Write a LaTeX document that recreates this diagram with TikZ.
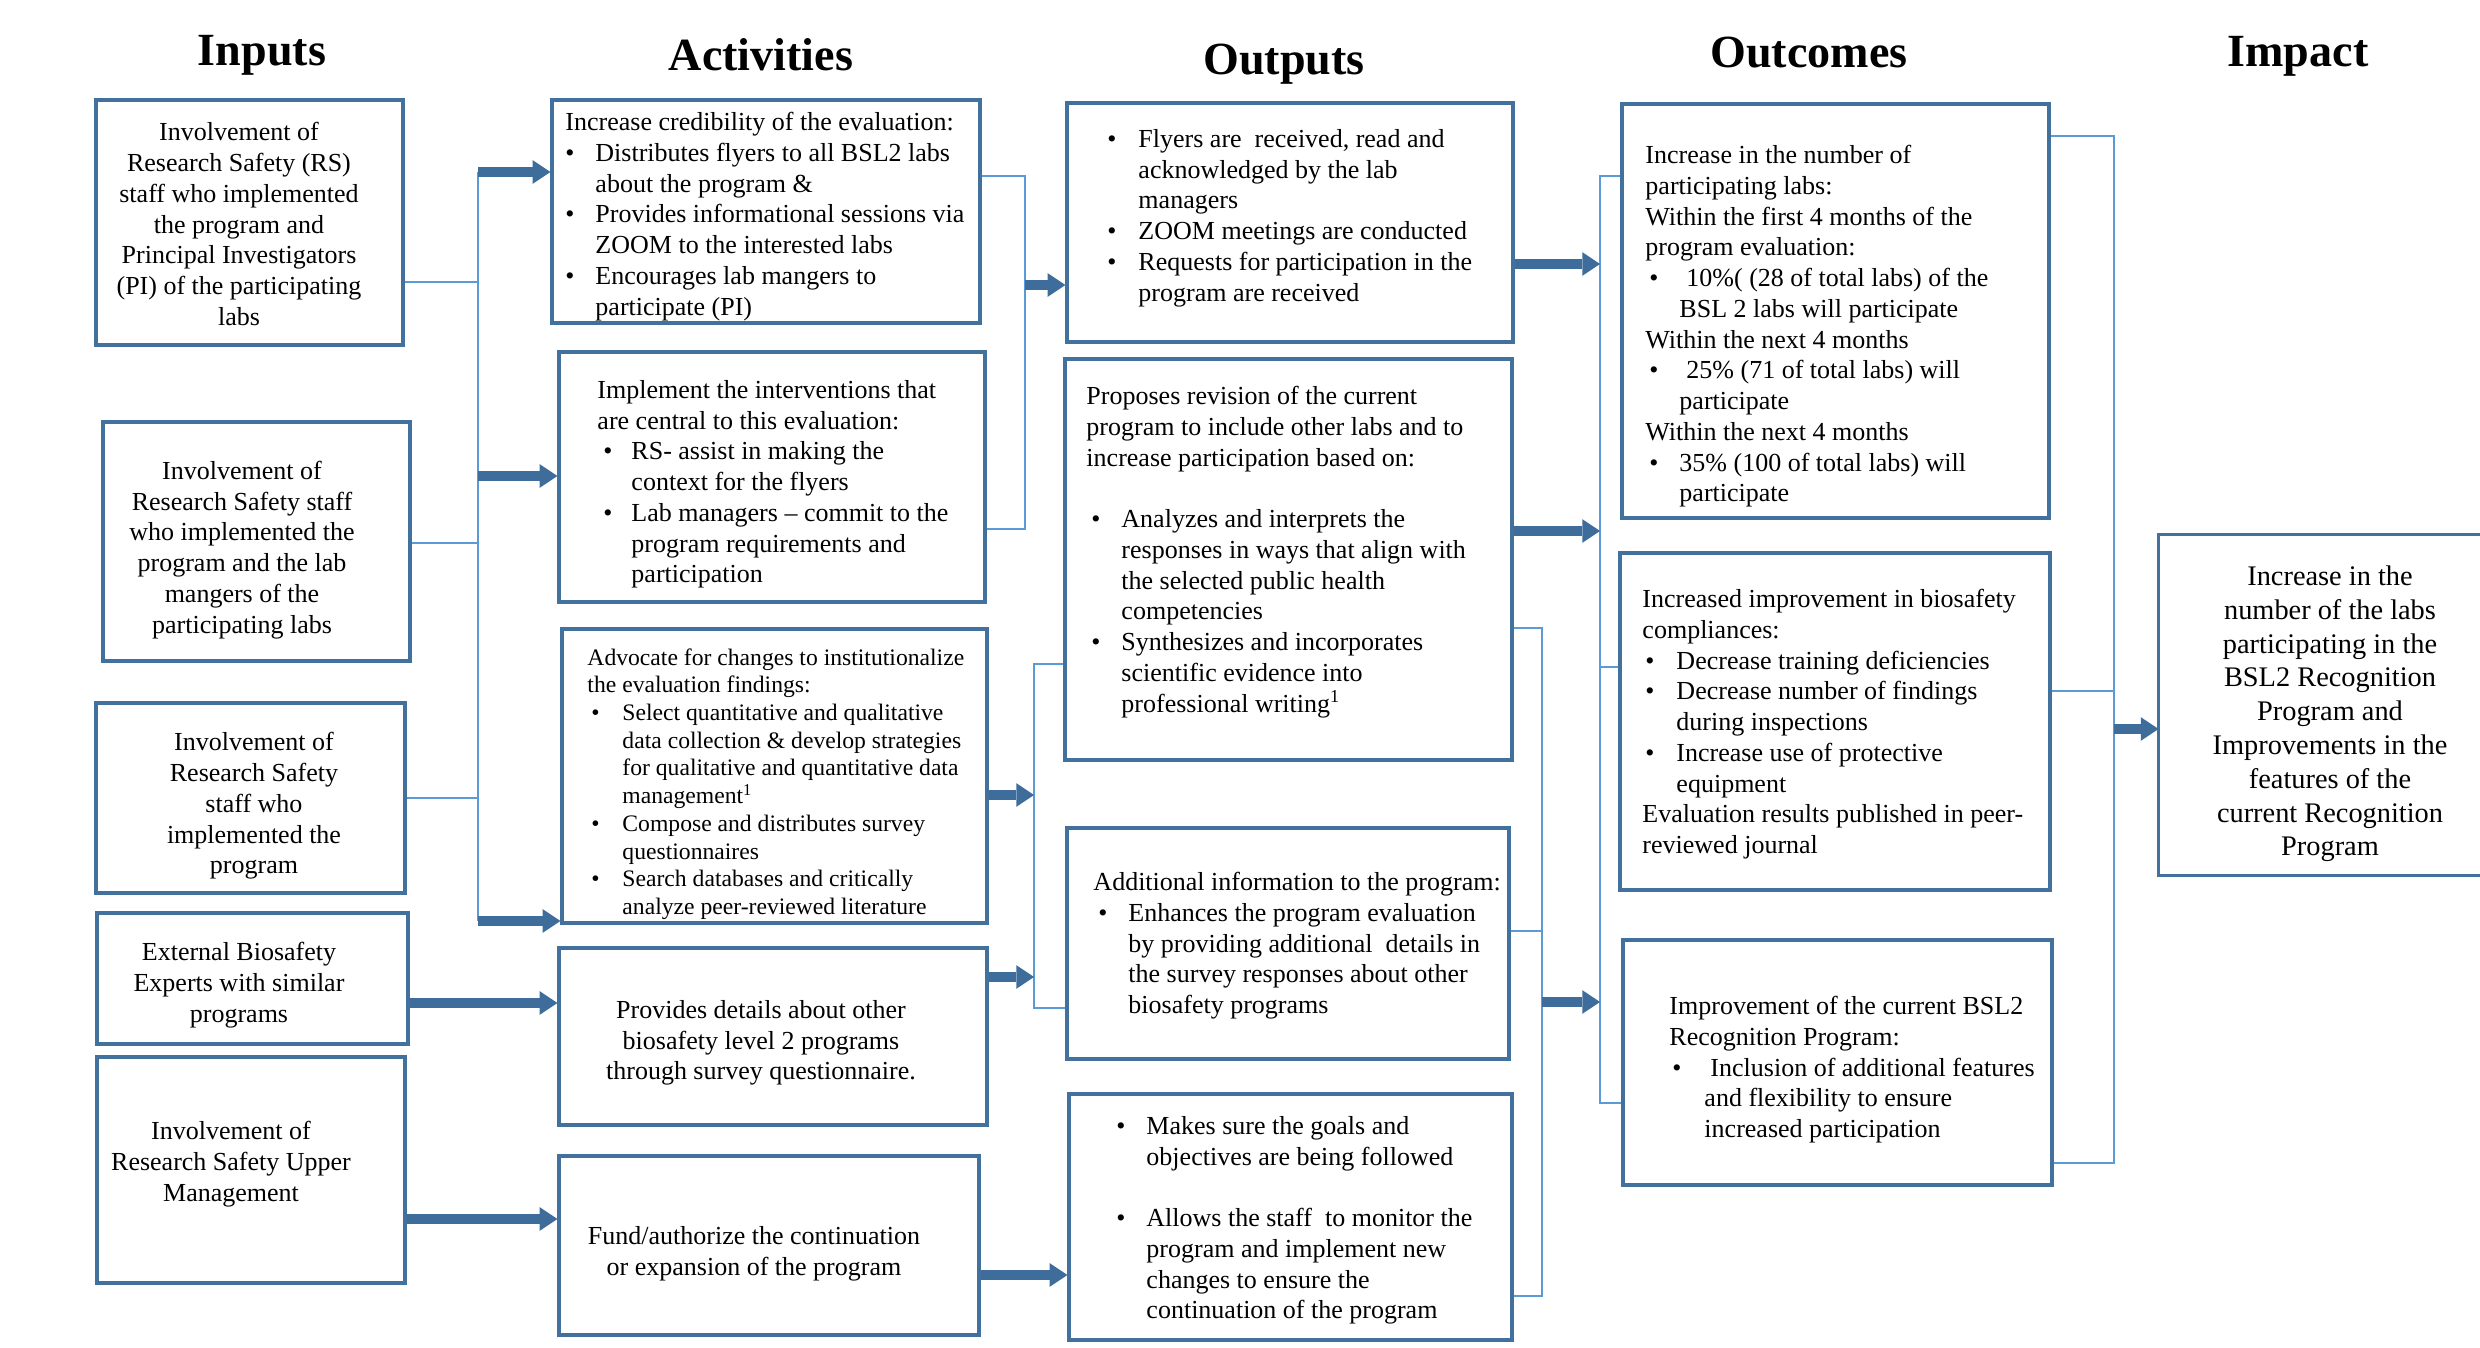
\documentclass[tikz,border=0pt]{standalone}
\usepackage{fontspec}
\setmainfont{Liberation Serif}
\usetikzlibrary{arrows.meta,fit}
\newdimen\pxu \pxu=0.42308pt
\newcommand\bu[1]{\makebox[#1\pxu][l]{\textbullet}}
\newcommand\ind[1]{\hspace*{#1\pxu}}
\definecolor{boxc}{HTML}{41719C}
\definecolor{linec}{HTML}{5B9BD5}
\definecolor{arrc}{HTML}{3E6D9C}
\tikzset{
  box/.style={draw=boxc, line width=1.3pt, inner sep=0pt},
  txt/.style={inner sep=0pt, align=left, anchor=north west, font=\fontsize{11}{13}\selectfont},
  stxt/.style={inner sep=0pt, align=left, anchor=north west, font=\fontsize{10}{11.72}\selectfont},
  ctxt/.style={inner sep=0pt, align=center, font=\fontsize{11}{13}\selectfont},
  itxt/.style={inner sep=0pt, align=center, font=\fontsize{12}{14.3}\selectfont},
  head/.style={anchor=base, inner sep=0pt, font=\fontsize{19.5}{23}\selectfont\bfseries},
  conn/.style={draw=linec, line width=1.05pt},
  bigarrow/.style={draw=arrc, line width=4.2pt, -{Triangle[width=10pt,length=7.5pt,line width=0pt]}}
}
\begin{document}
\begin{tikzpicture}[x=0.42308pt,y=-0.42308pt]
\fill[white] (0,0) rectangle (2480,1348);
\useasboundingbox (0,0) rectangle (2480,1348);

% headings
\node[head] (hin)  at (262,66)  {Inputs};
\node[head] (hact) at (761,71)  {Activities};
\node[head] (hout) at (1284,75) {Outputs};
\node[head] (hoc)  at (1809,68) {Outcomes};
\node[head] (himp) at (2298,67) {Impact};

% input boxes
\node[box, fit={(96,100) (403,345)}] (i1) {};
\node[box, fit={(103,422) (410,661)}] (i2) {};
\node[box, fit={(96,703) (405,893)}] (i3) {};
\node[box, fit={(97,913) (408,1044)}] (i4) {};
\node[box, fit={(97,1057) (405,1283)}] (i5) {};
\node[ctxt] (i1t) at (239,224) {Involvement of\\Research Safety (RS)\\staff who implemented\\the program and\\Principal Investigators\\(PI) of the participating\\labs};
\node[ctxt] (i2t) at (242,550) {Involvement of\\Research Safety staff\\who implemented the\\program and the lab\\mangers of the\\participating labs};
\node[ctxt] (i3t) at (254,806) {Involvement of\\Research Safety\\staff who\\implemented the\\program};
\node[ctxt] (i4t) at (239,985) {External Biosafety\\Experts with similar\\programs};
\node[ctxt] (i5t) at (231,1164) {Involvement of\\Research Safety Upper\\Management};

% activity boxes
\node[box, fit={(552,100) (980,323)}] (a1) {};
\node[box, fit={(559,352) (985,602)}] (a2) {};
\node[box, fit={(562,629) (987,923)}] (a3) {};
\node[box, fit={(559,948) (987,1125)}] (a4) {};
\node[box, fit={(559,1156) (979,1335)}] (a5) {};
\node[txt] (a1t) at (565,112) {Increase credibility of the evaluation:\\
\bu{30}Distributes flyers to all BSL2 labs\\
\ind{30}about the program \&\\
\bu{30}Provides informational sessions via\\
\ind{30}ZOOM to the interested labs\\
\bu{30}Encourages lab mangers to\\
\ind{30}participate (PI)};
\node[txt] (a2t) at (597,380) {Implement the interventions that\\
are central to this evaluation:\\
\ind{6}\bu{28}RS- assist in making the\\
\ind{34}context for the flyers\\
\ind{6}\bu{28}Lab managers -- commit to the\\
\ind{34}program requirements and\\
\ind{34}participation};
\node[stxt] (a3t) at (587,648) {Advocate for changes to institutionalize\\
the evaluation findings:\\
\ind{4}\bu{31}Select quantitative and qualitative\\
\ind{35}data collection \& develop strategies\\
\ind{35}for qualitative and quantitative data\\
\ind{35}management\textsuperscript{1}\\
\ind{4}\bu{31}Compose and distributes survey\\
\ind{35}questionnaires\\
\ind{4}\bu{31}Search databases and critically\\
\ind{35}analyze peer-reviewed literature};
\node[ctxt] (a4t) at (761,1043) {Provides details about other\\biosafety level 2 programs\\through survey questionnaire.};
\node[ctxt] (a5t) at (754,1254) {Fund/authorize the continuation\\or expansion of the program};

% output boxes
\node[box, fit={(1067,103) (1513,342)}] (o1) {};
\node[box, fit={(1065,359) (1512,760)}] (o2) {};
\node[box, fit={(1067,828) (1509,1059)}] (o3) {};
\node[box, fit={(1069,1094) (1512,1340)}] (o4) {};
\node[txt] (o1t) at (1107,129) {\bu{31}Flyers are \ received, read and\\
\ind{31}acknowledged by the lab\\
\ind{31}managers\\
\bu{31}ZOOM meetings are conducted\\
\bu{31}Requests for participation in the\\
\ind{31}program are received};
\node[txt] (o2t) at (1086,386) {Proposes revision of the current\\
program to include other labs and to\\
increase participation based on:\\[13pt]
\ind{5}\bu{30}Analyzes and interprets the\\
\ind{35}responses in ways that align with\\
\ind{35}the selected public health\\
\ind{35}competencies\\
\ind{5}\bu{30}Synthesizes and incorporates\\
\ind{35}scientific evidence into\\
\ind{35}professional writing\textsuperscript{1}};
\node[txt] (o3t) at (1093,872) {Additional information to the program:\\
\ind{5}\bu{30}Enhances the program evaluation\\
\ind{35}by providing additional \ details in\\
\ind{35}the survey responses about other\\
\ind{35}biosafety programs};
\node[txt] (o4t) at (1116,1116) {\bu{30}Makes sure the goals and\\
\ind{30}objectives are being followed\\[13pt]
\bu{30}Allows the staff \ to monitor the\\
\ind{30}program and implement new\\
\ind{30}changes to ensure the\\
\ind{30}continuation of the program};

% outcome boxes
\node[box, fit={(1622,104) (2049,518)}] (c1) {};
\node[box, fit={(1620,553) (2050,890)}] (c2) {};
\node[box, fit={(1623,940) (2052,1185)}] (c3) {};
\node[txt] (c1t) at (1645,145) {Increase in the number of\\
participating labs:\\
Within the first 4 months of the\\
program evaluation:\\
\ind{4}\bu{37}10\%( (28 of total labs) of the\\
\ind{34}BSL 2 labs will participate\\
Within the next 4 months\\
\ind{4}\bu{37}25\% (71 of total labs) will\\
\ind{34}participate\\
Within the next 4 months\\
\ind{4}\bu{30}35\% (100 of total labs) will\\
\ind{34}participate};
\node[txt] (c2t) at (1642,589) {Increased improvement in biosafety\\
compliances:\\
\ind{3}\bu{31}Decrease training deficiencies\\
\ind{3}\bu{31}Decrease number of findings\\
\ind{34}during inspections\\
\ind{3}\bu{31}Increase use of protective\\
\ind{34}equipment\\
Evaluation results published in peer-\\
reviewed journal};
\node[txt] (c3t) at (1669,996) {Improvement of the current BSL2\\
Recognition Program:\\
\ind{3}\bu{38}Inclusion of additional features\\
\ind{35}and flexibility to ensure\\
\ind{35}increased participation};

% impact box (right side runs off the page)
\node[inner sep=0pt, fit={(2159,535) (2482,875)}] (m1) {};
\draw[boxc, line width=1.3pt] (m1.north east) -- (m1.north west) -- (m1.south west) -- (m1.south east);
\node[itxt] (m1t) at (2330,714) {Increase in the\\number of the labs\\participating in the\\BSL2 Recognition\\Program and\\Improvements in the\\features of the\\current Recognition\\Program};

% ---- connectors: Inputs -> Activities
\coordinate (bIAt) at (478,172);
\coordinate (bIAb) at (478,921);
\draw[conn] (bIAt) -- (bIAb);
\coordinate (s1) at (478,282); \draw[conn] (s1 -| i1.east) -- (s1);
\coordinate (s2) at (478,543); \draw[conn] (s2 -| i2.east) -- (s2);
\coordinate (s3) at (478,798); \draw[conn] (s3 -| i3.east) -- (s3);
\draw[bigarrow] (bIAt) -- (bIAt -| a1.west);
\coordinate (s4) at (478,476); \draw[bigarrow] (s4) -- (s4 -| a2.west);
\draw[bigarrow] (bIAb) -- (bIAb -| a3.west);
\coordinate (s5) at (0,1003); \draw[bigarrow] (s5 -| i4.east) -- (s5 -| a4.west);
\coordinate (s6) at (0,1219); \draw[bigarrow] (s6 -| i5.east) -- (s6 -| a5.west);

% ---- Activities -> Outputs
\coordinate (b1t) at (1025,176); \coordinate (b1b) at (1025,529);
\draw[conn] (b1t -| a1.east) -- (b1t) -- (b1b) -- (b1b -| a2.east);
\coordinate (b1a) at (1025,285); \draw[bigarrow] (b1a) -- (b1a -| o1.west);
\coordinate (b2t) at (1034,664); \coordinate (b2b) at (1034,1008);
\draw[conn] (b2t -| o2.west) -- (b2t) -- (b2b) -- (b2b -| o3.west);
\coordinate (b2a) at (1034,795); \draw[bigarrow] (b2a -| a3.east) -- (b2a);
\coordinate (b2c) at (1034,977); \draw[bigarrow] (b2c -| a4.east) -- (b2c);
\coordinate (b3) at (0,1275); \draw[bigarrow] (b3 -| a5.east) -- (b3 -| o4.west);

% ---- Outputs -> Outcomes
\coordinate (b4t) at (1542,628); \coordinate (b4b) at (1542,1296);
\draw[conn] (b4t -| o2.east) -- (b4t) -- (b4b) -- (b4b -| o4.east);
\coordinate (b4m) at (1542,931); \draw[conn] (b4m -| o3.east) -- (b4m);
\coordinate (b5t) at (1600,176); \coordinate (b5b) at (1600,1103);
\draw[conn] (b5t -| c1.west) -- (b5t) -- (b5b) -- (b5b -| c3.west);
\coordinate (b5m) at (1600,667); \draw[conn] (b5m) -- (b5m -| c2.west);
\coordinate (b4a) at (1542,1002); \draw[bigarrow] (b4a) -- (b4a -| b5t);
\coordinate (b5a) at (1600,264); \draw[bigarrow] (b5a -| o1.east) -- (b5a);
\coordinate (b5c) at (1600,531); \draw[bigarrow] (b5c -| o2.east) -- (b5c);

% ---- Outcomes -> Impact
\coordinate (b6t) at (2114,136); \coordinate (b6b) at (2114,1163);
\draw[conn] (b6t -| c1.east) -- (b6t) -- (b6b) -- (b6b -| c3.east);
\coordinate (b6m) at (2114,691); \draw[conn] (b6m -| c2.east) -- (b6m);
\coordinate (b6a) at (2114,729); \draw[bigarrow] (b6a) -- (b6a -| m1.west);
\end{tikzpicture}
\end{document}
